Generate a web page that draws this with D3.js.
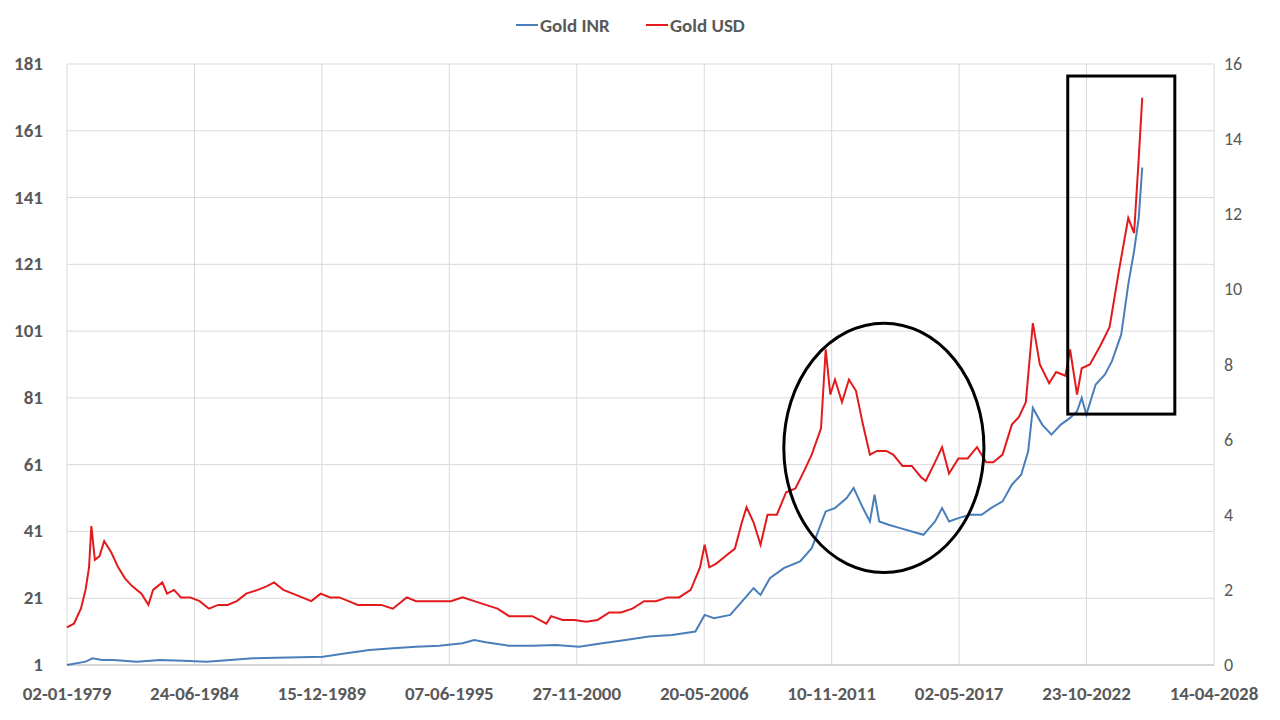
<!DOCTYPE html>
<html><head><meta charset="utf-8">
<script src="https://cdn.jsdelivr.net/npm/d3@7"></script>
<style>body{margin:0;background:#fff}svg{font-family:Calibri,"Liberation Sans",Arial,sans-serif}</style>
</head><body><svg id="c" width="1280" height="720"></svg>
<script>
// Gold USD (right axis, multiple of 1979 price) [year, value]
const usdData = [[1979.0,1.0],[1979.3,1.1],[1979.6,1.5],[1979.8,2.0],[1979.95,2.6],[1980.05,3.7],[1980.2,2.8],[1980.4,2.9],[1980.6,3.3],[1980.9,3.0],[1981.2,2.6],[1981.5,2.3],[1981.8,2.1],[1982.2,1.9],[1982.5,1.6],[1982.7,2.0],[1983.1,2.2],[1983.3,1.9],[1983.6,2.0],[1983.9,1.8],[1984.3,1.8],[1984.7,1.7],[1985.1,1.5],[1985.5,1.6],[1985.9,1.6],[1986.3,1.7],[1986.7,1.9],[1987.2,2.0],[1987.6,2.1],[1987.9,2.2],[1988.3,2.0],[1988.7,1.9],[1989.1,1.8],[1989.5,1.7],[1989.9,1.9],[1990.3,1.8],[1990.7,1.8],[1991.1,1.7],[1991.5,1.6],[1992.0,1.6],[1992.5,1.6],[1993.0,1.5],[1993.6,1.8],[1994.0,1.7],[1994.5,1.7],[1995.0,1.7],[1995.5,1.7],[1996.0,1.8],[1996.5,1.7],[1997.0,1.6],[1997.5,1.5],[1998.0,1.3],[1998.5,1.3],[1999.0,1.3],[1999.6,1.1],[1999.8,1.3],[2000.3,1.2],[2000.8,1.2],[2001.3,1.15],[2001.8,1.2],[2002.3,1.4],[2002.8,1.4],[2003.3,1.5],[2003.8,1.7],[2004.3,1.7],[2004.8,1.8],[2005.3,1.8],[2005.8,2.0],[2006.2,2.6],[2006.4,3.2],[2006.6,2.6],[2006.9,2.7],[2007.3,2.9],[2007.7,3.1],[2008.0,3.8],[2008.2,4.2],[2008.5,3.8],[2008.8,3.2],[2009.1,4.0],[2009.5,4.0],[2009.9,4.6],[2010.3,4.7],[2010.7,5.2],[2011.0,5.6],[2011.4,6.3],[2011.6,8.4],[2011.8,7.2],[2012.0,7.6],[2012.3,7.0],[2012.6,7.6],[2012.9,7.3],[2013.2,6.4],[2013.5,5.6],[2013.8,5.7],[2014.2,5.7],[2014.5,5.6],[2014.9,5.3],[2015.3,5.3],[2015.7,5.0],[2015.9,4.9],[2016.3,5.4],[2016.6,5.8],[2016.9,5.1],[2017.3,5.5],[2017.7,5.5],[2018.1,5.8],[2018.5,5.4],[2018.8,5.4],[2019.2,5.6],[2019.6,6.4],[2019.9,6.6],[2020.2,7.0],[2020.5,9.1],[2020.8,8.0],[2021.2,7.5],[2021.5,7.8],[2021.9,7.7],[2022.1,8.4],[2022.4,7.2],[2022.6,7.9],[2022.95,8.0],[2023.4,8.5],[2023.8,9.0],[2024.2,10.5],[2024.6,11.9],[2024.85,11.5],[2025.05,13.5],[2025.2,15.1]];
// Gold INR (left axis)
const inrData = [[1979.0,1],[1979.8,2],[1980.1,3],[1980.5,2.5],[1981,2.5],[1982,2],[1983,2.5],[1984,2.3],[1985,2],[1986,2.5],[1987,3],[1988,3.2],[1989,3.3],[1990,3.5],[1991,4.5],[1992,5.5],[1993,6],[1994,6.5],[1995,6.8],[1996,7.5],[1996.5,8.5],[1997,7.8],[1998,6.8],[1999,6.8],[2000,7],[2001,6.5],[2002,7.5],[2003,8.5],[2004,9.5],[2005,10],[2006,11],[2006.4,16],[2006.8,15],[2007.5,16],[2008,20],[2008.5,24],[2008.8,22],[2009.2,27],[2009.8,30],[2010.5,32],[2011,36],[2011.6,47],[2012,48],[2012.5,51],[2012.8,54],[2013.2,48],[2013.5,44],[2013.7,52],[2013.9,44],[2014.3,43],[2014.8,42],[2015.3,41],[2015.8,40],[2016.3,44],[2016.6,48],[2016.9,44],[2017.3,45],[2017.8,46],[2018.3,46],[2018.7,48],[2019.2,50],[2019.6,55],[2020,58],[2020.3,65],[2020.5,78],[2020.9,73],[2021.3,70],[2021.7,73],[2022.1,75],[2022.4,77],[2022.6,81],[2022.8,76],[2023.2,85],[2023.6,88],[2023.9,92],[2024.3,100],[2024.6,115],[2024.85,125],[2025.05,135],[2025.2,150]];
const leftTicks = [1,21,41,61,81,101,121,141,161,181];
const rightTicks = [0,2,4,6,8,10,12,14,16];
const seriesNames = ["Gold INR","Gold USD"];
const colors = ["#4a7ebb","#e31a1c"];

const svg = d3.select("#c");
const L=67,R=1214,T=64,B=665;
const start = new Date(Date.UTC(1979,0,2));
const DAY=86400000;
const x = d3.scaleUtc().domain([start,new Date(start.getTime()+18000*DAY)]).range([L,R]);
const yL = d3.scaleLinear().domain([1,181]).range([B,T]);
const yR = d3.scaleLinear().domain([0,16]).range([B,T]);
const yd = yr => { const y=Math.floor(yr); const s=Date.UTC(y,0,1), e=Date.UTC(y+1,0,1); return new Date(s+(yr-y)*(e-s)); };
const xTicks = d3.range(10).map(i=>new Date(start.getTime()+i*2000*DAY));
const fmt = d3.utcFormat("%d-%m-%Y");

svg.append("g").selectAll("line").data(leftTicks).join("line")
 .attr("x1",L).attr("x2",R).attr("y1",d=>yL(d)).attr("y2",d=>yL(d)).attr("stroke","#d9d9d9");
svg.append("g").selectAll("line").data(xTicks).join("line")
 .attr("x1",d=>x(d)).attr("x2",d=>x(d)).attr("y1",T).attr("y2",B).attr("stroke","#d9d9d9");
svg.append("line").attr("x1",L).attr("x2",R).attr("y1",B).attr("y2",B).attr("stroke","#bfbfbf");

const tc="#595959";
svg.append("g").selectAll("text").data(leftTicks).join("text")
 .attr("x",43).attr("y",d=>yL(d)+6).attr("text-anchor","end").attr("font-size",19).attr("font-weight","bold").attr("fill",tc).text(d=>d);
svg.append("g").selectAll("text").data(rightTicks).join("text")
 .attr("x",1224).attr("y",d=>yR(d)+6).attr("font-size",18).attr("fill",tc).text(d=>d);
svg.append("g").selectAll("text").data(xTicks).join("text")
 .attr("x",d=>x(d)).attr("y",700).attr("text-anchor","middle").attr("font-size",19).attr("font-weight","bold").attr("fill",tc).text(d=>fmt(d));

svg.append("path").datum(inrData).attr("fill","none").attr("stroke",colors[0]).attr("stroke-width",2)
 .attr("d",d3.line().x(d=>x(yd(d[0]))).y(d=>yL(d[1])));
svg.append("path").datum(usdData).attr("fill","none").attr("stroke",colors[1]).attr("stroke-width",2)
 .attr("d",d3.line().x(d=>x(yd(d[0]))).y(d=>yR(d[1])));

// annotations
const cx=x(yd(2014.1)), cy=yR(5.78);
svg.append("ellipse").attr("cx",cx).attr("cy",cy).attr("rx",x(yd(2018.4))-cx).attr("ry",cy-yR(9.1)).attr("fill","none").attr("stroke","#000").attr("stroke-width",3);
const rx0=x(yd(2022.0)), rx1=x(yd(2026.6));
svg.append("rect").attr("x",rx0).attr("y",yR(15.68)).attr("width",rx1-rx0).attr("height",yR(6.68)-yR(15.68)).attr("fill","none").attr("stroke","#000").attr("stroke-width",3);

// legend
const lg=svg.append("g");
const lx=[516,646];
seriesNames.forEach((n,i)=>{
 lg.append("line").attr("x1",lx[i]).attr("x2",lx[i]+22).attr("y1",25).attr("y2",25).attr("stroke",colors[i]).attr("stroke-width",2);
 lg.append("text").attr("x",lx[i]+24).attr("y",32).attr("font-size",19).attr("font-weight","bold").attr("fill",tc).text(n);
});
</script></body></html>
